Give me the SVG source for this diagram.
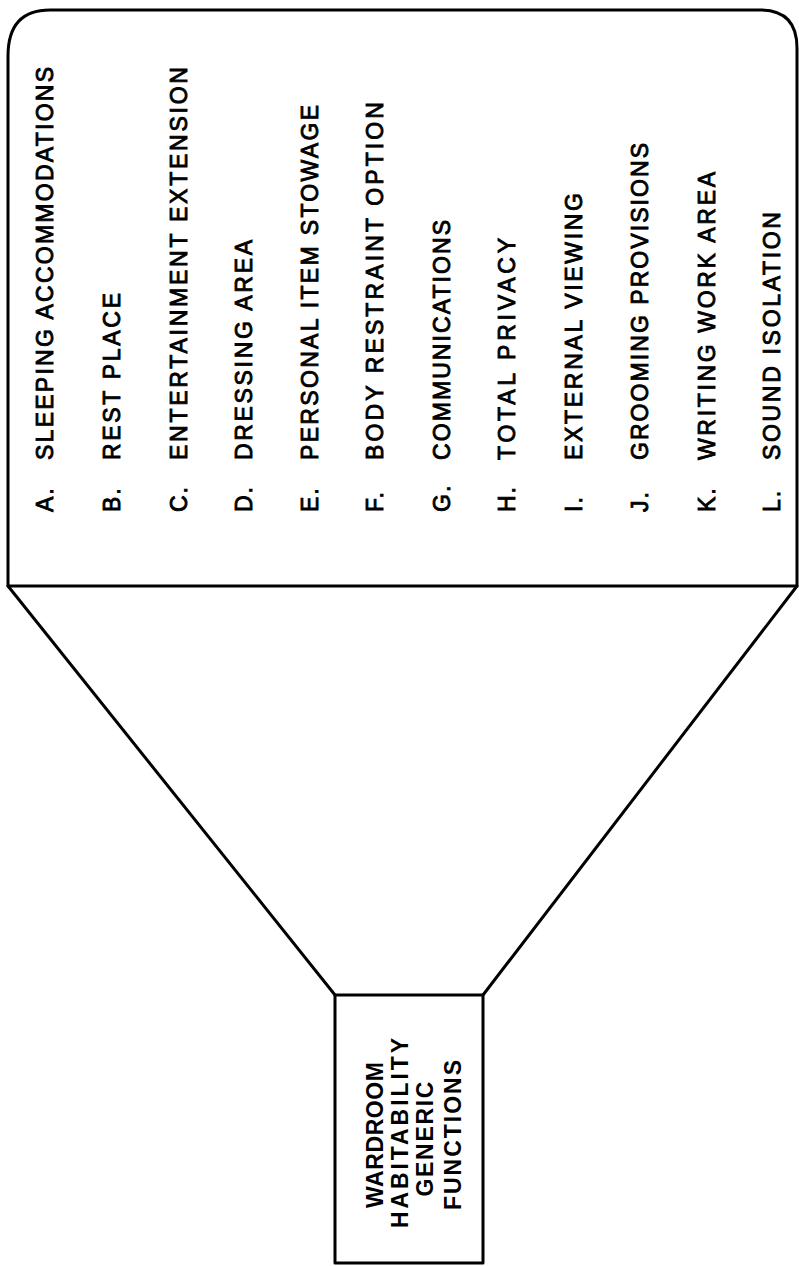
<svg xmlns="http://www.w3.org/2000/svg" width="799" height="1266" viewBox="0 0 799 1266">
  <style>
    .box { fill: #ffffff; stroke: #000000; stroke-width: 3; stroke-linejoin: round; }
    .conn { fill: none; stroke: #000000; stroke-width: 3; stroke-linecap: round; }
    .item { font-family: "Liberation Sans", Arial, sans-serif; font-size: 23px; fill: #000000; stroke: #000000; stroke-width: 0.9; }
    .lbl { font-family: "Liberation Sans", Arial, sans-serif; font-size: 23px; fill: #000000; stroke: #000000; stroke-width: 0.9; letter-spacing: 2px; }
    .title { font-family: "Liberation Sans", Arial, sans-serif; font-size: 23px; font-weight: bold; fill: #000000; text-anchor: middle; }
  </style>
  <rect x="0" y="0" width="799" height="1266" fill="#ffffff"/>

  <g id="connectors">
    <line class="conn" x1="8" y1="586" x2="335" y2="995"/>
    <line class="conn" x1="797" y1="586" x2="483" y2="995"/>
  </g>

  <g id="functions-list">
    <path class="box" d="M8,586 L8,56 Q8,10 50,10 L760,10 Q797,10 797,48 L797,586 Z"/>
    <text class="lbl" transform="translate(53,512) rotate(-90)">A.</text>
    <text class="item" transform="translate(53,460) rotate(-90)" textLength="393" lengthAdjust="spacing">SLEEPING ACCOMMODATIONS</text>
    <text class="lbl" transform="translate(120,512) rotate(-90)">B.</text>
    <text class="item" transform="translate(120,460) rotate(-90)" textLength="167" lengthAdjust="spacing">REST PLACE</text>
    <text class="lbl" transform="translate(187,512) rotate(-90)">C.</text>
    <text class="item" transform="translate(187,460) rotate(-90)" textLength="393" lengthAdjust="spacing">ENTERTAINMENT EXTENSION</text>
    <text class="lbl" transform="translate(252,512) rotate(-90)">D.</text>
    <text class="item" transform="translate(252,460) rotate(-90)" textLength="220" lengthAdjust="spacing">DRESSING AREA</text>
    <text class="lbl" transform="translate(318,512) rotate(-90)">E.</text>
    <text class="item" transform="translate(318,460) rotate(-90)" textLength="355" lengthAdjust="spacing">PERSONAL ITEM STOWAGE</text>
    <text class="lbl" transform="translate(383,512) rotate(-90)">F.</text>
    <text class="item" transform="translate(383,460) rotate(-90)" textLength="358" lengthAdjust="spacing">BODY RESTRAINT OPTION</text>
    <text class="lbl" transform="translate(450,512) rotate(-90)">G.</text>
    <text class="item" transform="translate(450,460) rotate(-90)" textLength="240" lengthAdjust="spacing">COMMUNICATIONS</text>
    <text class="lbl" transform="translate(515,512) rotate(-90)">H.</text>
    <text class="item" transform="translate(515,460) rotate(-90)" textLength="222" lengthAdjust="spacing">TOTAL PRIVACY</text>
    <text class="lbl" transform="translate(582,512) rotate(-90)">I.</text>
    <text class="item" transform="translate(582,460) rotate(-90)" textLength="267" lengthAdjust="spacing">EXTERNAL VIEWING</text>
    <text class="lbl" transform="translate(648,512) rotate(-90)">J.</text>
    <text class="item" transform="translate(648,460) rotate(-90)" textLength="317" lengthAdjust="spacing">GROOMING PROVISIONS</text>
    <text class="lbl" transform="translate(715,512) rotate(-90)">K.</text>
    <text class="item" transform="translate(715,460) rotate(-90)" textLength="288" lengthAdjust="spacing">WRITING WORK AREA</text>
    <text class="lbl" transform="translate(780,512) rotate(-90)">L.</text>
    <text class="item" transform="translate(780,460) rotate(-90)" textLength="248" lengthAdjust="spacing">SOUND ISOLATION</text>
  </g>

  <g id="wardroom-habitability">
    <rect class="box" x="335" y="995" width="148" height="268"/>
    <text class="title" transform="translate(383,1135) rotate(-90)" textLength="146" lengthAdjust="spacing">WARDROOM</text>
    <text class="title" transform="translate(408,1133) rotate(-90)" textLength="190" lengthAdjust="spacing">HABITABILITY</text>
    <text class="title" transform="translate(433,1139) rotate(-90)" textLength="115" lengthAdjust="spacing">GENERIC</text>
    <text class="title" transform="translate(461,1135) rotate(-90)" textLength="150" lengthAdjust="spacing">FUNCTIONS</text>
  </g>
</svg>
